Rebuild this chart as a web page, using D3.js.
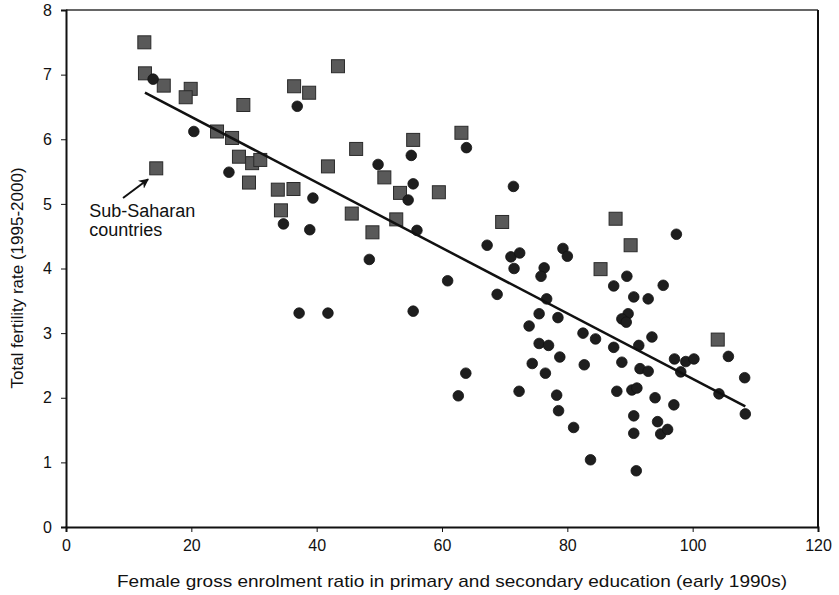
<!DOCTYPE html>
<html>
<head>
<meta charset="utf-8">
<script src="https://cdn.jsdelivr.net/npm/d3@7"></script>
<style>
  body { margin: 0; background: #fff; }
  svg text { font-family: "Liberation Sans", Arial, sans-serif; fill: #111; }
</style>
</head>
<body>
<div id="chart"></div>
<script>
// sub-Saharan countries (squares): [enrolment ratio, fertility rate]
var subSaharan = [
  [12.5, 7.50], [12.6, 7.02], [15.6, 6.83], [19.9, 6.78], [19.1, 6.65],
  [28.3, 6.53], [36.4, 6.82], [38.8, 6.72], [24.1, 6.12], [26.5, 6.02],
  [27.6, 5.73], [29.7, 5.63], [31.0, 5.68], [29.2, 5.33], [33.8, 5.22],
  [36.3, 5.23], [14.4, 5.55], [43.4, 7.13], [63.1, 6.10], [55.4, 5.99],
  [46.3, 5.85], [41.8, 5.58], [50.8, 5.41], [53.3, 5.17], [59.5, 5.18],
  [34.3, 4.90], [45.6, 4.85], [52.7, 4.76], [48.9, 4.56], [69.6, 4.72],
  [87.7, 4.77], [90.1, 4.36], [85.3, 3.99], [104.0, 2.90]
];

// other countries (circles)
var others = [
  [13.9, 6.93], [36.9, 6.51], [20.4, 6.12], [26.0, 5.49], [39.4, 5.09],
  [34.7, 4.69], [38.9, 4.60], [37.2, 3.31], [63.9, 5.87], [55.1, 5.75],
  [49.8, 5.61], [55.4, 5.31], [71.4, 5.27], [54.6, 5.06], [56.0, 4.59],
  [48.4, 4.14], [67.2, 4.36], [71.0, 4.18], [72.4, 4.24], [71.5, 4.00],
  [76.3, 4.01], [75.8, 3.88], [79.3, 4.31], [80.0, 4.19], [60.9, 3.81],
  [68.8, 3.60], [76.7, 3.53], [75.5, 3.30], [78.5, 3.24], [73.9, 3.11],
  [75.5, 2.84], [77.0, 2.81], [78.8, 2.63], [74.4, 2.53], [76.5, 2.38],
  [63.8, 2.38], [55.4, 3.34], [41.8, 3.31], [97.4, 4.53], [89.5, 3.88],
  [87.4, 3.73], [95.3, 3.74], [90.6, 3.56], [92.9, 3.53], [89.7, 3.30],
  [88.7, 3.22], [89.4, 3.17], [93.5, 2.94], [82.5, 3.00], [84.5, 2.91],
  [87.4, 2.78], [91.4, 2.81], [82.7, 2.51], [88.7, 2.55], [97.1, 2.60],
  [98.9, 2.56], [100.2, 2.60], [105.7, 2.64], [91.6, 2.45], [92.9, 2.41],
  [98.1, 2.40], [108.3, 2.31], [62.6, 2.03], [72.3, 2.10], [78.3, 2.04],
  [78.6, 1.80], [81.0, 1.54], [83.7, 1.04], [87.9, 2.10], [90.3, 2.12],
  [91.1, 2.15], [94.0, 2.00], [97.0, 1.89], [90.6, 1.72], [94.4, 1.63],
  [90.6, 1.45], [94.9, 1.44], [96.0, 1.51], [91.0, 0.87], [104.2, 2.06],
  [108.4, 1.75]
];

// fitted trend line end points
var trend = [[12.6, 6.72], [108.4, 1.865]];

var xTicks = [0, 20, 40, 60, 80, 100, 120];
var yTicks = [0, 1, 2, 3, 4, 5, 6, 7, 8];

var xTitle = "Female gross enrolment ratio in primary and secondary education (early 1990s)";
var yTitle = "Total fertility rate (1995-2000)";
var noteLines = ["Sub-Saharan", "countries"];

function draw_chart(view) {

	var width= 839;
	var height= 595;
	var left= 66, right= 818, top= 10, bottom= 527;

	var svg= d3.select("#" + view)
		.append("svg")
		.attr("width", width)
		.attr("height", height);

	var x= d3.scaleLinear().domain([0, 120]).range([left, right]);
	var y= d3.scaleLinear().domain([0, 8]).range([bottom, top]);

	// frame top and right
	svg.append("line")
		.attr("x1", left).attr("x2", right)
		.attr("y1", top).attr("y2", top)
		.attr("stroke", "#333").attr("stroke-width", 1.5);
	svg.append("line")
		.attr("x1", right).attr("x2", right)
		.attr("y1", top).attr("y2", bottom)
		.attr("stroke", "#111").attr("stroke-width", 2);

	var xAxis= svg.append("g")
		.attr("transform", "translate(0," + bottom + ")")
		.call(d3.axisBottom(x).tickValues(xTicks).tickSize(5).tickPadding(8));
	var yAxis= svg.append("g")
		.attr("transform", "translate(" + left + ",0)")
		.call(d3.axisLeft(y).tickValues(yTicks).tickSize(5).tickPadding(9));

	[xAxis, yAxis].forEach(function(a) {
		a.select(".domain").attr("stroke", "#111").attr("stroke-width", 2);
		a.selectAll(".tick line").attr("stroke", "#111").attr("stroke-width", 1);
		a.selectAll(".tick text")
			.style("font-family", "Liberation Sans, Arial, sans-serif")
			.style("font-size", "16px")
			.attr("fill", "#111");
	});

	// axis titles
	svg.append("text")
		.attr("x", 452)
		.attr("y", 587)
		.attr("text-anchor", "middle")
		.attr("textLength", 670)
		.attr("lengthAdjust", "spacingAndGlyphs")
		.style("font-size", "17px")
		.text(xTitle);

	svg.append("text")
		.attr("transform", "translate(23,278) rotate(-90)")
		.attr("text-anchor", "middle")
		.style("font-size", "17px")
		.text(yTitle);

	// points
	var sq= 13;
	svg.append("g").selectAll("rect")
		.data(subSaharan)
		.enter().append("rect")
			.attr("x", function(d) { return x(d[0]) - sq / 2; })
			.attr("y", function(d) { return y(d[1]) - sq / 2; })
			.attr("width", sq)
			.attr("height", sq)
			.attr("fill", "#595959")
			.attr("stroke", "#2a2a2a")
			.attr("stroke-width", 1);

	svg.append("g").selectAll("circle")
		.data(others)
		.enter().append("circle")
			.attr("cx", function(d) { return x(d[0]); })
			.attr("cy", function(d) { return y(d[1]); })
			.attr("r", 5.3)
			.attr("fill", "#1e1e1e")
			.attr("stroke", "#111")
			.attr("stroke-width", 0.8);

	// trend line
	svg.append("path")
		.datum(trend)
		.attr("d", d3.line()
			.x(function(d) { return x(d[0]); })
			.y(function(d) { return y(d[1]); }))
		.attr("fill", "none")
		.attr("stroke", "#111")
		.attr("stroke-width", 2.5);

	// annotation
	var defs= svg.append("defs");
	defs.append("marker")
		.attr("id", "arrowhead")
		.attr("viewBox", "0 0 10 10")
		.attr("refX", 9).attr("refY", 5)
		.attr("markerWidth", 5).attr("markerHeight", 5)
		.attr("orient", "auto")
		.append("path")
			.attr("d", "M0,0 L10,5 L0,10 L3,5 Z")
			.attr("fill", "#111");

	svg.append("line")
		.attr("x1", x(9.1)).attr("y1", y(5.09))
		.attr("x2", x(13.1)).attr("y2", y(5.38))
		.attr("stroke", "#111")
		.attr("stroke-width", 2)
		.attr("marker-end", "url(#arrowhead)");

	svg.append("g").selectAll("text")
		.data(noteLines)
		.enter().append("text")
			.attr("x", x(3.7))
			.attr("y", function(d, i) { return y(4.79) + i * 19; })
			.style("font-size", "18px")
			.text(function(d) { return d; });
}

draw_chart("chart");
</script>
</body>
</html>
